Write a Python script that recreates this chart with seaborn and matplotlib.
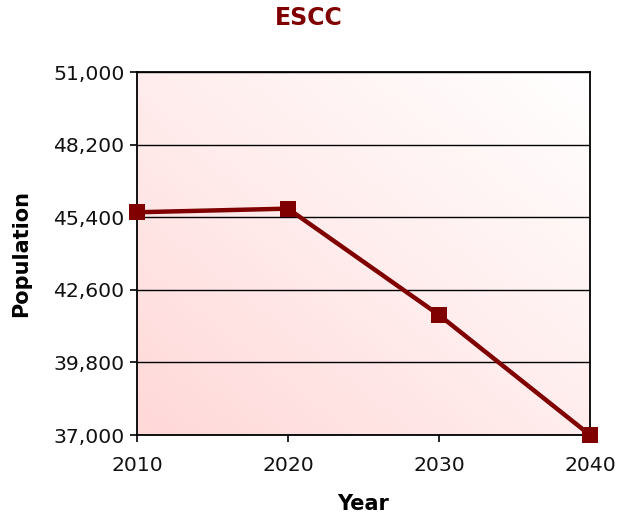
import numpy as np
import matplotlib
matplotlib.use("Agg")
import matplotlib.pyplot as plt
import seaborn as sns
import pandas as pd
from matplotlib.colors import LinearSegmentedColormap
from matplotlib.ticker import FuncFormatter

years = [2010, 2020, 2030, 2040]
population = [45590, 45730, 41630, 37000]
yticks = [37000, 39800, 42600, 45400, 48200, 51000]

sns.set_theme(style="white")
plt.rcParams['font.family'] = ['DejaVu Sans']

fig = plt.figure(figsize=(6.18, 5.17), dpi=100)
ax = fig.add_axes([137/618, 1-435/517, (590-137)/618, (435-72)/517])

# gradient background: pink lower-left to white upper-right
nx, ny = 200, 200
xx, yy = np.meshgrid(np.linspace(0, 1, nx), np.linspace(0, 1, ny))
g = (xx + yy) / 2
cmap = LinearSegmentedColormap.from_list("bg", ["#ffd8d8", "#ffeded", "#ffffff"])
ax.imshow(g, cmap=cmap, extent=[0, 1, 0, 1], transform=ax.transAxes,
          origin="lower", aspect="auto", zorder=0)

df = pd.DataFrame({"Year": years, "Population": population})
sns.lineplot(data=df, x="Year", y="Population", ax=ax, color="#800000",
             linewidth=3.2, marker="s", markersize=11, markeredgewidth=0,
             zorder=5, clip_on=False)

ax.set_xlim(2010, 2040)
ax.set_ylim(37000, 51000)
ax.set_xticks(years)
ax.set_yticks(yticks)
ax.yaxis.set_major_formatter(FuncFormatter(lambda v, p: f"{int(v):,}"))
for y in yticks:
    ax.axhline(y, color="black", linewidth=1.0, zorder=2)
for s in ax.spines.values():
    s.set_color("black")
    s.set_linewidth(1.3)
    s.set_zorder(3)
ax.tick_params(axis="both", which="major", direction="out", length=5,
               width=1.2, color="black", labelsize=14.7, labelcolor="#111111",
               left=True, bottom=True, pad=4)
ax.tick_params(axis="x", pad=10)
ax.set_xlabel("Year", fontsize=15, fontweight="bold", labelpad=14, color="black")
ax.set_ylabel("Population", fontsize=15, fontweight="bold", labelpad=16, color="black")
fig.text(0.5, 1-18/517, "ESCC", ha="center", va="center", fontsize=17,
         fontweight="bold", color="#800000")

fig.savefig("out.png", dpi=100)
